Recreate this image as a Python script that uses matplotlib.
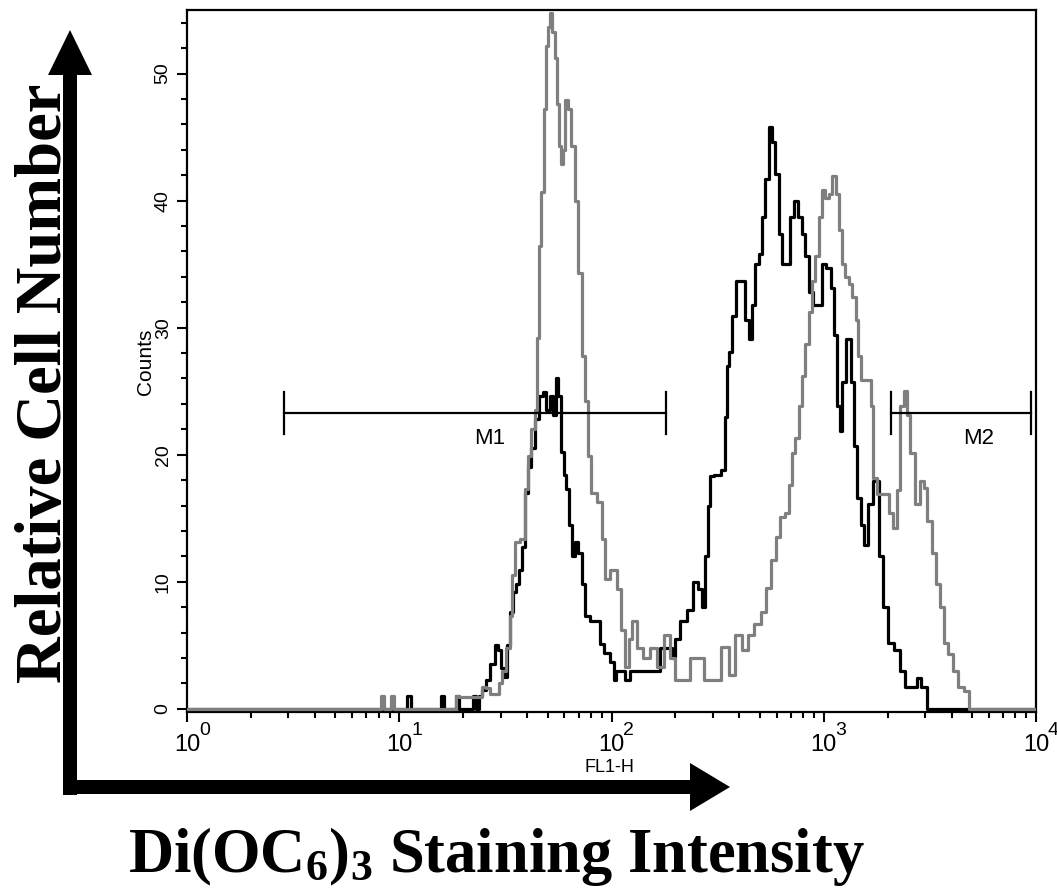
import matplotlib
matplotlib.use('Agg')
import numpy as np
import matplotlib.pyplot as plt
from matplotlib.patches import FancyArrow
from matplotlib.transforms import Affine2D, ScaledTranslation
from matplotlib.ticker import MultipleLocator, NullFormatter, LogLocator

plt.rcParams['font.family'] = ['Liberation Sans', 'DejaVu Sans']
plt.rcParams['mathtext.fontset'] = 'custom'
plt.rcParams['mathtext.rm'] = 'Liberation Serif:bold'
plt.rcParams['mathtext.it'] = 'Liberation Serif:bold'
plt.rcParams['mathtext.bf'] = 'Liberation Serif:bold'
plt.rcParams['mathtext.default'] = 'rm'

# histogram data: log channel (0-1024 over 4 decades) and counts
black_ch = [0, 262, 268, 273, 305, 308, 313, 323, 326, 331, 343, 346, 351, 354,
            358, 363, 368, 374, 377, 381, 384, 388, 392, 395, 399, 403, 406, 410,
            413, 417, 422, 427, 432, 435, 440, 444, 446, 450, 453, 456, 459, 463,
            465, 470, 474, 478, 482, 490, 496, 500, 507, 513, 516, 520, 525, 531,
            538, 552, 567, 574, 583, 586, 592, 598, 607, 613, 619, 623, 627, 630,
            632, 640, 647, 650, 653, 655, 659, 665, 671, 676, 679, 683, 688, 691,
            695, 700, 704, 707, 712, 716, 719, 725, 730, 734, 740, 743, 748, 752,
            758, 764, 768, 774, 779, 782, 786, 788, 792, 798, 803, 806, 810, 815,
            818, 824, 831, 837, 843, 849, 857, 863, 870, 879, 882, 889, 895, 1023]
black_counts = [0, 0, 1, 0, 0, 1, 0, 0, 1, 0, 0, 1, 0, 1,
                1.5, 2.3, 3.5, 5.0, 4.6, 3.2, 2.5, 5.0, 7.6, 9.2, 9.8, 10.9, 12.7, 17,
                19, 20.5, 22.8, 24.6, 24.9, 23.5, 24.6, 23.1, 26, 24.6, 20.2, 18.4, 17.3, 14.5,
                12, 13.1, 12.3, 9.8, 7.3, 6.9, 6.9, 5.1, 4.4, 3.7, 2.3, 3.0, 3.0, 2.3,
                3.0, 3.0, 3.0, 4.8, 4.8, 4.0, 5.5, 6.9, 7.8, 10, 9.4, 8.0, 12, 16,
                18.3, 18.4, 18.8, 23, 27, 28.1, 30.9, 33.7, 33.7, 30.6, 29.1, 31.8, 35, 35.8,
                38.7, 41.7, 45.8, 44.6, 42.1, 37.4, 35, 35, 38.7, 40, 38.7, 37.4, 35.6, 32.8,
                31.8, 31.8, 35, 34.7, 33.1, 29.4, 23.8, 21.9, 25.7, 29.1, 25.7, 20.7, 16.6, 14.5,
                12.9, 16.1, 17.9, 12, 8.0, 5.2, 4.6, 3.0, 1.7, 1.7, 2.4, 1.7, 0, 0]

gray_ch = [0, 232, 236, 239, 245, 248, 251, 324, 326, 330, 341, 353, 358, 363,
           368, 374, 378, 383, 387, 391, 393, 398, 405, 410, 413, 417, 422, 423,
           426, 429, 432, 434, 436, 439, 441, 446, 447, 450, 452, 455, 458, 462,
           465, 470, 474, 478, 482, 485, 490, 498, 502, 507, 514, 522, 526, 531,
           534, 540, 546, 555, 562, 571, 579, 586, 591, 603, 610, 619, 627, 640,
           649, 658, 665, 673, 679, 689, 695, 701, 707, 713, 718, 725, 728, 731,
           736, 740, 743, 748, 752, 756, 760, 764, 768, 772, 776, 780, 785, 788,
           791, 797, 800, 804, 809, 810, 815, 822, 827, 828, 837, 845, 849, 855,
           858, 863, 867, 870, 875, 881, 887, 891, 895, 901, 905, 912, 915, 921,
           927, 933, 942, 945, 1023]
gray_counts = [0, 0, 1, 0, 0, 1, 0, 0, 1, 0.9, 0.9, 0.9, 1.7, 1.6,
               1.2, 1.2, 2.0, 3.0, 4.8, 7.3, 10.5, 13.1, 13.4, 17.3, 19.9, 22, 23.5, 29.2,
               36.4, 40.7, 47.2, 52.2, 53.7, 54.8, 53.3, 51.2, 47.6, 44.3, 42.9, 44, 47.9, 47.2,
               44.3, 40, 34.3, 27.8, 24.2, 19.9, 17, 16.3, 13.4, 10.2, 10.9, 9.4, 6.2, 3.3,
               5.5, 6.9, 4.8, 4.0, 4.8, 3.3, 5.8, 4.0, 2.3, 2.3, 4.0, 4.0, 2.3, 2.3,
               4.9, 2.7, 5.8, 4.6, 5.8, 6.7, 7.6, 9.5, 11.7, 13.5, 15.1, 15.4, 17.6, 20.1,
               21.3, 23.8, 26.2, 28.7, 31.2, 33.7, 35.6, 38.7, 40.8, 40.2, 40.5, 41.9, 40.5, 37.7,
               35, 34, 33.4, 32.4, 30.6, 27.8, 25.9, 25.9, 23.8, 18.2, 16.9, 16.9, 15.4, 14.2,
               17.2, 23.8, 25, 23.1, 20.1, 16.1, 17.9, 17.4, 14.8, 12.3, 9.8, 8.0, 5.2, 4.3,
               3.0, 1.7, 1.4, 0, 0]

# markers (FL1-H range, count level)
marker_names = ['M1', 'M2']
marker_lo = [2.87, 2070]
marker_hi = [181, 9470]
marker_level = 23.3
marker_label_x = [26.7, 5380]

x_ticks = [1, 10, 100, 1000, 10000]
x_exponents = ['0', '1', '2', '3', '4']
y_ticks = [0, 10, 20, 30, 40, 50]

black_x = 10 ** (np.array(black_ch) / 256.0)
gray_x = 10 ** (np.array(gray_ch) / 256.0)

fig = plt.figure(figsize=(10.57, 8.92), dpi=100)
ax = fig.add_axes([187 / 1057, 1 - 712 / 892, 849 / 1057, 702 / 892])

ax.plot(black_x, black_counts, drawstyle='steps-mid', color='black', lw=2.3, zorder=3)
ax.plot(gray_x, gray_counts, drawstyle='steps-mid', color='#7f7f7f', lw=2.3, zorder=4)

for name, lo, hi, lx in zip(marker_names, marker_lo, marker_hi, marker_label_x):
    ax.plot([lo, hi], [marker_level, marker_level], color='black', lw=1.6, zorder=5)
    ax.plot([lo, lo], [marker_level - 1.65, marker_level + 1.65], color='black', lw=1.6, zorder=5)
    ax.plot([hi, hi], [marker_level - 1.65, marker_level + 1.65], color='black', lw=1.6, zorder=5)
    ax.text(lx, marker_level - 2.0, name, ha='center', va='center', fontsize=16, zorder=6)

ax.set_xscale('log')
ax.set_xlim(1, 10000)
ax.set_ylim(-0.25, 55)

# decade labels: "10" as tick label, exponent written next to it
ax.set_xticks(x_ticks)
ax.set_xticklabels(['10'] * len(x_ticks), fontsize=17)
shift = ScaledTranslation(-6 / 100, 0, fig.dpi_scale_trans)
for lab in ax.get_xticklabels():
    lab.set_transform(lab.get_transform() + shift)
for xt, ex in zip(x_ticks, x_exponents):
    ax.annotate(ex, xy=(xt, 0), xycoords=('data', 'axes fraction'), xytext=(8.5, -7),
                textcoords='offset points', ha='left', va='top', fontsize=14)
ax.xaxis.set_minor_locator(LogLocator(base=10, subs=np.arange(2, 10)))
ax.xaxis.set_minor_formatter(NullFormatter())
ax.set_yticks(y_ticks)
ax.set_yticklabels([str(v) for v in y_ticks], fontsize=14, rotation=90, va='center')
ax.yaxis.set_minor_locator(MultipleLocator(2))

ax.tick_params(axis='both', which='major', direction='out', length=7, width=1.5)
ax.tick_params(axis='both', which='minor', direction='out', length=4, width=1.5)
ax.tick_params(axis='x', pad=9)
ax.tick_params(axis='y', pad=4)
for sp in ax.spines.values():
    sp.set_linewidth(1.6)

# pixel coordinate transform for the outer annotations
pix = Affine2D().scale(1, -1).translate(0, 892)

fig.text(145, 362, 'Counts', transform=pix, rotation=90, ha='center', va='center', fontsize=15)
fig.text(609, 768, 'FL1-H', transform=pix, ha='center', va='center', fontsize=13)

fig.add_artist(FancyArrow(70, 795, 0, -765, width=14, head_width=44, head_length=45,
                          length_includes_head=True, transform=pix, color='black', lw=0))
fig.add_artist(FancyArrow(63, 787, 667, 0, width=14, head_width=48, head_length=40,
                          length_includes_head=True, transform=pix, color='black', lw=0))

fig.text(45, 383, 'Relative Cell Number', transform=pix, rotation=90, ha='center', va='center',
         fontsize=46.5, fontweight='bold', family='Liberation Serif')
fig.text(496, 872, r'Di(OC$_6$)$_3$ Staining Intensity', transform=pix, ha='center', va='baseline',
         fontsize=45, fontweight='bold', family='Liberation Serif')

fig.savefig('out.png', dpi=100)
